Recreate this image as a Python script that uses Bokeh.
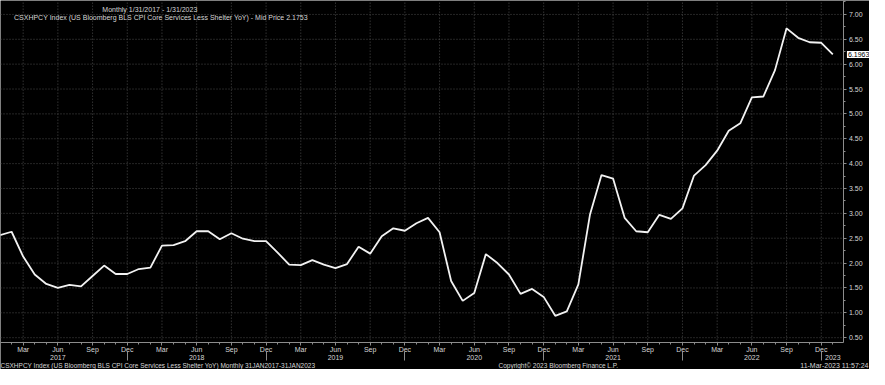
import pandas as pd
from bokeh.plotting import figure
from bokeh.models import (LinearAxis, FixedTicker, Range1d, Label, Legend, LegendItem,
                          PrintfTickFormatter)
from bokeh.embed import file_html
from bokeh.resources import INLINE

# ---- data (monthly, Jan 2017 .. Jan 2023) ----
values_2017 = [2.56, 2.63, 2.13, 1.77, 1.58, 1.50, 1.56, 1.53, 1.74, 1.95, 1.78, 1.78]
values_2018 = [1.88, 1.91, 2.35, 2.36, 2.44, 2.64, 2.64, 2.48, 2.60, 2.49, 2.44, 2.44]
values_2019 = [2.21, 1.97, 1.96, 2.06, 1.97, 1.90, 1.98, 2.33, 2.19, 2.54, 2.70, 2.65]
values_2020 = [2.80, 2.91, 2.62, 1.64, 1.24, 1.40, 2.18, 2.00, 1.77, 1.38, 1.48, 1.32]
values_2021 = [0.94, 1.03, 1.57, 2.97, 3.77, 3.70, 2.91, 2.64, 2.62, 2.97, 2.89, 3.10]
values_2022 = [3.76, 3.97, 4.26, 4.66, 4.81, 5.33, 5.35, 5.88, 6.72, 6.53, 6.44, 6.43]
values_2023 = [6.1963]
values = values_2017 + values_2018 + values_2019 + values_2020 + values_2021 + values_2022 + values_2023

dates = pd.date_range("2017-01-31", periods=len(values), freq="ME")
months = list(range(len(values)))

quarter_months = [3, 6, 9, 12]
y_tick_values = [0.5, 1.0, 1.5, 2.0, 2.5, 3.0, 3.5, 4.0, 4.5, 5.0, 5.5, 6.0, 6.5, 7.0]
y_minor_values = [0.75, 1.25, 1.75, 2.25, 2.75, 3.25, 3.75, 4.25, 4.75, 5.25, 5.75, 6.25, 6.75, 7.25]

header_text = "Monthly 1/31/2017 - 1/31/2023"
legend_text = "CSXHPCY Index (US Bloomberg BLS CPI Core Services Less Shelter YoY) - Mid Price 2.1753"
footer_left = "CSXHPCY Index (US Bloomberg BLS CPI Core Services Less Shelter YoY)  Monthly 31JAN2017-31JAN2023"
footer_mid = "Copyright\u00a9 2023 Bloomberg Finance L.P."
footer_right = "11-Mar-2023 11:57:24"

# ---- derived ticks ----
quarter_ticks = [i for i, d in enumerate(dates) if d.month in quarter_months]
quarter_labels = {i: dates[i].strftime("%b") for i in quarter_ticks}
year_ticks = [i for i, d in enumerate(dates) if d.month == 6] + [len(values) - 1]
year_labels = {i: str(dates[i].year) for i in year_ticks}
year_seps = [i for i, d in enumerate(dates) if d.month == 12]

FONT = "Liberation Sans"
TXT = "#d6d6d6"
AXC = "#8c8c8c"
GRID = "#4a4a4a"

# frame covers the whole canvas; axes are pinned with fixed_location
x_start, x_axis, x_end = 0.04, 72.96, 75.17
y_start, y_axis, y_year, y_end = -0.14, 0.40, 0.225, 7.28

p = figure(width=869, height=369,
           x_range=Range1d(x_start, x_end), y_range=Range1d(y_start, y_end),
           y_axis_location="right", output_backend="svg", toolbar_location=None,
           background_fill_color="black", border_fill_color="black",
           min_border_left=0, min_border_top=0, min_border_right=0, min_border_bottom=0)
p.outline_line_color = None
p.xgrid.visible = False
p.ygrid.visible = False

# grid lines (limited to the plotting area)
p.segment(x0=quarter_ticks, x1=quarter_ticks, y0=[y_axis] * len(quarter_ticks), y1=[y_end] * len(quarter_ticks),
          line_color=GRID, line_dash="1 2", line_width=1)
p.segment(x0=[x_start] * len(y_tick_values), x1=[x_axis] * len(y_tick_values), y0=y_tick_values, y1=y_tick_values,
          line_color=GRID, line_dash="1 2", line_width=1)

# month axis
xt = FixedTicker(ticks=quarter_ticks, minor_ticks=months)
xa = p.xaxis[0]
xa.ticker = xt
xa.fixed_location = y_axis
xa.bounds = (x_start, x_axis)
xa.major_label_overrides = quarter_labels
xa.axis_line_color = AXC
xa.major_tick_line_color = AXC
xa.minor_tick_line_color = AXC
xa.major_tick_in = 0
xa.major_tick_out = 3
xa.minor_tick_in = 0
xa.minor_tick_out = 2
xa.major_label_standoff = 0
xa.major_label_text_font = FONT
xa.major_label_text_font_size = "7px"
xa.major_label_text_color = TXT

# year axis (separators drawn as minor ticks)
ya2 = LinearAxis(ticker=FixedTicker(ticks=year_ticks, minor_ticks=year_seps),
                 fixed_location=y_year, bounds=(x_start, x_axis),
                 major_label_overrides=year_labels,
                 axis_line_color=None, major_tick_line_color=None,
                 minor_tick_line_color=AXC, minor_tick_in=0, minor_tick_out=9,
                 major_tick_in=0, major_tick_out=0, major_label_standoff=-5,
                 major_label_text_font=FONT, major_label_text_font_size="7px",
                 major_label_text_color=TXT)
p.add_layout(ya2, "below")

# value axis (right)
yt = FixedTicker(ticks=y_tick_values, minor_ticks=y_minor_values)
ra = p.yaxis[0]
ra.ticker = yt
ra.fixed_location = x_axis
ra.bounds = (y_axis, y_end)
ra.formatter = PrintfTickFormatter(format="%.2f")
ra.axis_line_color = AXC
ra.major_tick_line_color = AXC
ra.minor_tick_line_color = AXC
ra.major_tick_in = 0
ra.major_tick_out = 3
ra.minor_tick_in = 0
ra.minor_tick_out = 2
ra.major_label_standoff = 2
ra.major_label_text_font = FONT
ra.major_label_text_font_size = "7px"
ra.major_label_text_color = TXT

# series
p.line(months, values, line_color="#f2f2f2", line_width=1.8)

# legend with white square
sq = p.scatter(x=[], y=[], marker="square", fill_color="white", line_color="white")
legend = Legend(items=[LegendItem(label=legend_text, renderers=[sq])],
                location="top_left", margin=0, padding=1,
                glyph_width=12, glyph_height=32, label_height=32, label_standoff=1,
                label_text_font=FONT, label_text_font_size="7px", label_text_color=TXT,
                background_fill_alpha=0, border_line_alpha=0)
p.add_layout(legend)

# header
p.add_layout(Label(x=12.95, y=7.09, text=header_text,
                   text_align="center", text_baseline="middle",
                   text_font=FONT, text_font_size="7px", text_color=TXT))

# last value tag
p.add_layout(Label(x=x_axis, y=values[-1], x_offset=3, text=f"{values[-1]:.4f}",
                   text_align="left", text_baseline="middle",
                   text_font=FONT, text_font_size="7px", text_color="black",
                   background_fill_color="white", padding=1))

# footer
for txt, xx, al, off, fs in ((footer_left, x_start, "left", 0, "6.5px"),
                             (footer_mid, 48.26, "center", 0, "6.5px"),
                             (footer_right, x_end, "right", -1, "7px")):
    p.add_layout(Label(x=xx, y=-0.065, x_offset=off, text=txt,
                       text_align=al, text_baseline="middle",
                       text_font=FONT, text_font_size=fs, text_color=TXT))

open("out.html", "w").write(file_html(p, INLINE))
